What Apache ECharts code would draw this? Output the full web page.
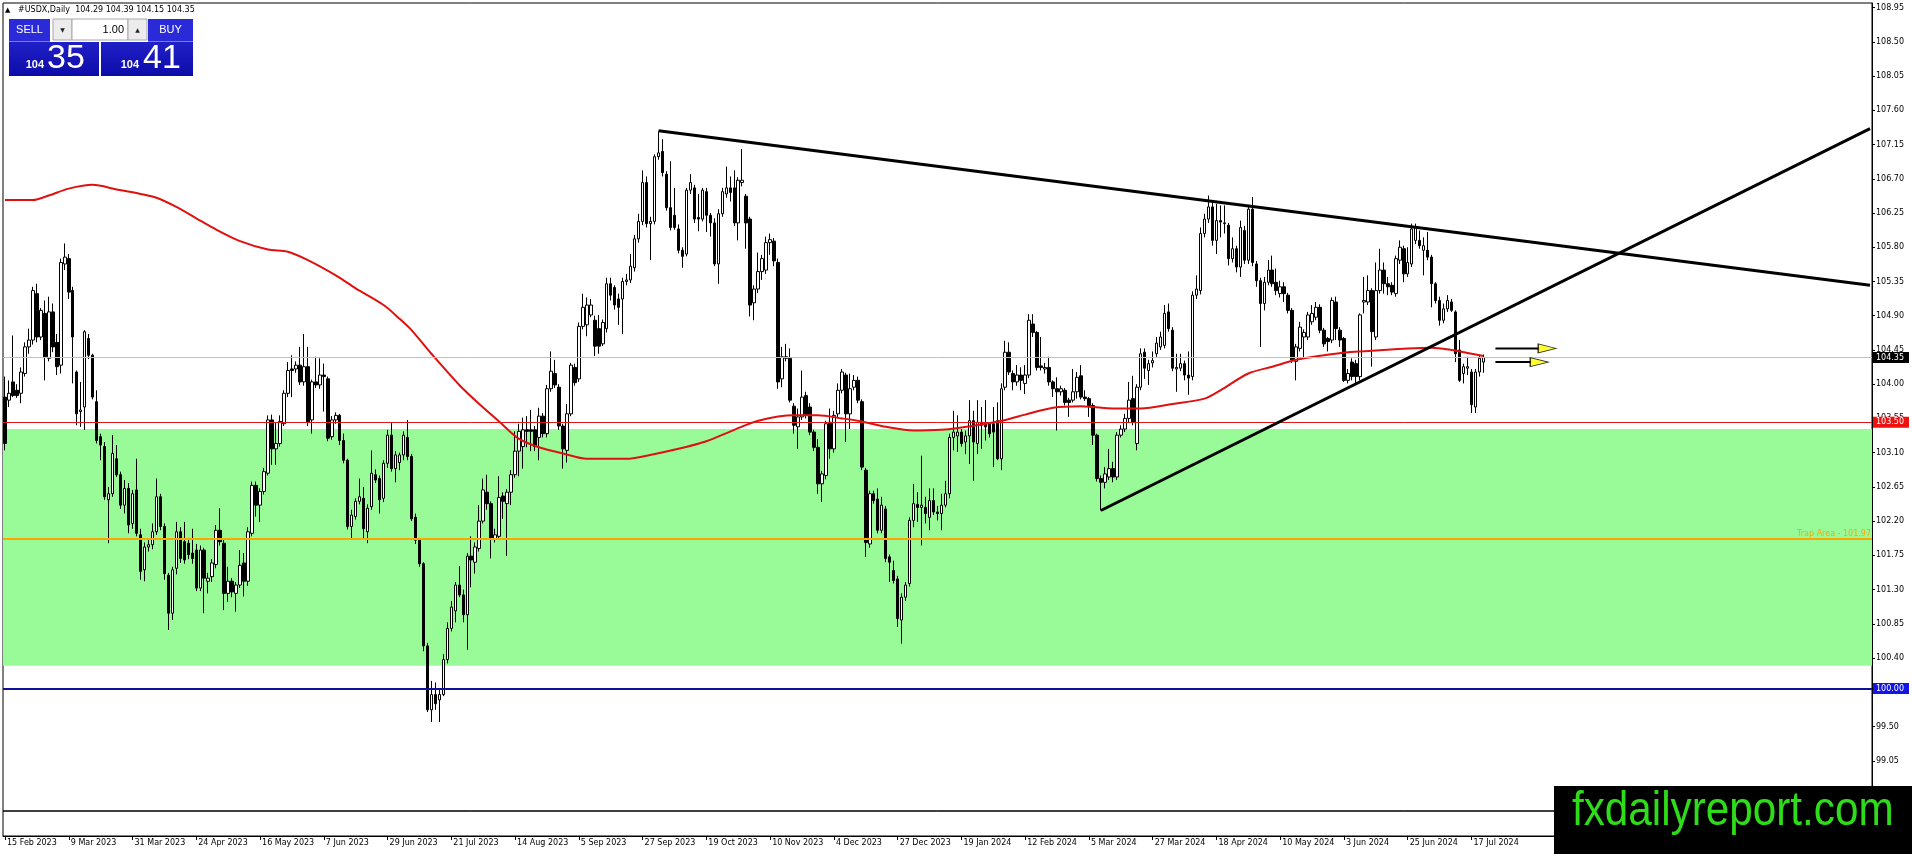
<!DOCTYPE html>
<html><head><meta charset="utf-8">
<script src="https://cdn.jsdelivr.net/npm/echarts@6/dist/echarts.min.js"></script>
<style>html,body{margin:0;padding:0;background:#fff;overflow:hidden}#c{width:1912px;height:854px}</style>
</head><body><div id="c"></div>
<script>
// ---- data ----
const O = [
103.83,103.79,104.03,103.92,103.88,104.14,104.49,104.58,105.19,104.62,
104.93,104.34,104.95,104.55,104.25,105.58,105.65,105.23,104.16,103.64,
103.70,104.60,104.38,103.77,103.31,103.18,102.48,102.56,103.02,102.81,
102.41,102.63,102.17,102.61,102.02,101.56,101.86,101.89,102.06,102.52,
102.13,101.49,100.99,101.58,102.06,101.93,101.91,101.78,101.82,101.32,
101.82,101.41,101.47,101.63,102.08,101.91,101.25,101.41,101.25,101.36,
101.65,101.41,102.04,102.67,102.41,102.59,102.83,103.53,103.15,103.22,
103.48,103.88,104.20,104.20,104.25,104.03,104.23,103.53,104.03,103.99,
104.12,104.07,103.31,103.53,103.59,103.26,103.00,102.13,102.26,102.46,
102.50,102.06,102.39,102.81,102.76,102.50,102.96,103.33,102.89,102.97,
103.07,103.30,103.05,102.25,101.95,101.64,100.56,99.72,99.92,99.85,
99.92,100.38,100.79,101.02,101.36,101.23,100.97,101.74,101.66,101.84,
102.20,102.58,102.43,101.97,102.00,102.53,102.43,102.58,102.81,103.12,
103.18,103.40,103.40,103.40,103.30,103.58,103.35,103.94,104.14,103.96,
103.45,103.13,103.61,104.22,104.07,104.76,104.78,104.91,104.84,104.73,
104.53,104.73,105.32,105.27,105.12,105.12,105.35,105.37,105.53,105.91,
106.14,106.65,106.11,106.14,106.99,107.06,106.76,106.32,106.22,106.04,
105.76,105.71,106.55,106.58,106.19,106.17,106.53,106.22,106.12,105.58,
106.24,106.50,106.58,106.58,106.12,106.65,106.47,106.17,105.07,105.25,
105.48,105.50,105.86,105.88,105.60,104.07,104.36,104.34,103.71,103.44,
103.57,103.85,103.70,103.37,103.17,102.69,102.80,103.50,103.15,103.61,
103.92,104.12,103.61,103.96,104.05,103.77,102.87,101.90,102.56,102.49,
102.08,102.36,101.73,101.55,101.44,100.90,101.20,101.38,102.21,102.42,
102.38,102.38,102.25,102.47,102.32,102.30,102.41,102.56,103.30,103.32,
103.37,103.24,103.32,103.52,103.22,103.50,103.48,103.48,103.48,103.52,
103.02,103.96,104.42,104.14,104.03,104.12,104.01,104.12,104.79,104.68,
104.24,104.20,104.22,104.03,103.94,103.90,103.92,103.79,103.79,103.90,
104.11,103.83,103.81,103.72,103.33,102.76,102.71,102.78,102.89,102.78,
103.33,103.41,103.55,103.81,103.22,103.96,104.42,104.18,104.28,104.40,
104.49,104.51,104.95,104.71,104.20,104.21,104.27,104.12,104.10,105.17,
105.23,105.98,106.17,106.33,105.89,106.15,106.11,106.09,105.65,105.78,
105.54,106.02,105.63,106.30,105.58,105.36,105.06,105.34,105.50,105.34,
105.19,105.28,105.17,104.97,104.30,104.47,104.62,104.62,104.82,104.88,
105.01,104.71,104.60,104.58,105.08,104.71,104.60,104.05,104.29,104.27,
104.10,105.08,105.08,105.23,104.62,105.23,105.50,105.32,105.30,105.19,
105.63,105.78,105.45,105.58,105.89,105.89,105.76,105.76,105.67,105.32,
105.10,104.84,104.99,105.08,104.95,104.45,104.14,104.21,104.16,103.70,
104.16,104.29];
const C = [
103.22,103.88,103.85,103.85,104.16,104.49,104.58,105.23,104.62,104.97,
104.36,104.95,104.49,104.23,105.60,105.67,105.21,104.62,103.61,103.66,
104.69,104.38,103.83,103.26,103.20,102.52,102.56,103.09,102.81,102.41,
102.63,102.15,102.56,102.04,101.54,101.86,101.89,102.06,102.52,102.13,
101.51,100.99,101.56,102.06,101.71,101.69,101.76,101.71,101.32,101.82,
101.45,101.45,101.65,102.08,101.93,101.25,101.41,101.27,101.36,101.62,
101.41,102.06,102.67,102.41,102.59,102.85,103.53,103.15,103.22,103.51,
103.88,104.18,104.18,104.25,104.03,104.23,103.50,104.03,103.99,104.12,
104.10,103.29,103.53,103.59,103.26,103.00,102.13,102.28,102.46,102.52,
102.10,102.37,102.83,102.74,102.48,102.96,103.33,102.89,103.07,103.07,
103.33,103.05,102.23,101.95,101.64,100.56,99.72,99.92,99.80,99.92,
100.38,100.79,101.07,101.36,101.23,100.97,101.74,101.69,101.86,102.20,
102.61,102.43,101.97,102.02,102.51,102.46,102.58,102.81,103.12,103.38,
103.40,103.38,103.38,103.18,103.58,103.35,103.94,104.17,103.99,103.45,
103.15,103.61,104.25,104.02,104.76,105.01,105.04,105.04,104.50,104.50,
104.81,105.32,105.17,105.04,105.01,105.35,105.37,105.55,105.91,106.14,
106.65,106.11,106.14,106.99,107.04,106.78,106.32,106.06,106.06,105.76,
105.68,106.55,106.65,106.17,106.17,106.55,106.22,106.12,105.58,106.24,
106.53,106.58,106.52,106.12,106.68,106.68,106.12,105.04,105.25,105.48,
105.65,105.86,105.90,105.62,104.03,104.36,104.34,103.79,103.46,103.57,
103.83,103.59,103.37,103.17,102.69,102.82,103.48,103.15,103.59,103.92,
104.16,103.61,103.94,104.05,103.79,102.91,101.92,102.56,102.47,102.08,
102.41,101.71,101.66,101.42,100.92,101.20,101.36,102.21,102.43,102.38,
102.41,102.30,102.47,102.32,102.30,102.41,102.56,103.30,103.37,103.37,
103.22,103.32,103.52,103.24,103.50,103.46,103.44,103.35,103.37,103.02,
103.94,104.42,104.16,104.03,104.12,104.05,104.12,104.84,104.68,104.22,
104.22,104.22,104.03,103.94,103.90,103.94,103.76,103.76,103.90,104.09,
103.83,103.81,103.72,103.33,102.76,102.71,102.82,102.89,102.78,103.33,
103.41,103.55,103.79,103.50,103.96,104.40,104.21,104.27,104.31,104.54,
104.62,104.93,104.73,104.21,104.22,104.27,104.12,104.08,105.17,105.25,
105.98,106.17,106.33,105.89,106.15,106.13,106.12,105.65,105.78,105.54,
106.06,105.63,106.30,105.60,105.36,105.06,105.34,105.50,105.32,105.23,
105.28,105.19,104.97,104.32,104.49,104.75,104.68,104.91,104.93,105.01,
104.71,104.53,104.56,105.10,104.73,104.58,104.05,104.14,104.10,104.10,
104.91,105.10,105.23,104.69,105.23,105.50,105.32,105.28,105.21,105.65,
105.80,105.45,105.60,106.04,106.06,105.82,105.82,105.67,105.32,105.10,
104.84,104.99,105.10,104.97,104.40,104.05,104.23,104.23,103.73,104.16,
104.34,104.35];
const L = [
103.13,103.70,103.83,103.82,103.75,104.10,104.40,104.52,104.55,104.58,
104.05,104.30,104.42,104.12,104.14,105.50,105.12,104.01,103.46,103.44,
103.40,104.33,103.80,103.22,103.00,102.48,101.91,102.52,102.78,102.36,
102.30,102.04,102.10,102.00,101.43,101.41,101.80,101.83,102.02,102.08,
101.43,100.77,100.90,101.50,101.65,101.64,101.70,101.64,101.28,101.28,
100.99,101.25,101.40,101.58,101.88,101.03,101.14,101.20,101.01,101.32,
101.21,101.35,102.00,102.26,102.19,102.55,102.80,102.94,102.94,103.18,
103.45,103.83,103.83,104.15,103.99,103.98,103.45,103.35,103.95,103.94,
103.64,103.25,103.27,103.48,103.20,102.96,102.09,101.97,102.22,102.42,
101.97,101.91,102.35,102.70,102.30,102.45,102.90,102.85,102.71,102.87,
103.00,103.00,102.20,101.90,101.60,100.49,99.69,99.56,99.72,99.56,
99.90,100.33,100.75,100.87,101.20,100.87,100.51,101.33,101.51,101.80,
102.17,102.35,101.71,101.92,101.96,102.23,101.74,102.41,102.77,102.79,
102.89,103.17,103.12,103.12,103.00,103.30,103.30,103.90,103.95,103.40,
102.89,102.97,103.58,103.98,104.03,104.72,104.63,104.88,104.37,104.40,
104.50,104.68,105.10,104.98,104.78,104.66,105.30,105.33,105.48,105.86,
106.09,106.06,105.63,106.10,106.95,106.73,106.28,106.02,106.03,105.72,
105.53,105.68,106.50,106.12,106.01,106.14,106.00,105.94,105.55,105.32,
106.20,106.45,106.40,106.08,105.89,106.60,105.78,104.89,104.84,105.20,
105.37,105.45,105.70,105.55,103.94,103.96,104.30,103.76,103.35,103.15,
103.53,103.55,103.33,103.12,102.56,102.45,102.75,103.02,103.10,103.57,
103.88,103.24,103.41,103.92,103.75,102.87,101.73,101.85,102.43,102.04,
102.04,101.66,101.40,101.38,100.81,100.59,101.15,101.34,102.12,102.19,
101.88,102.17,102.08,102.28,102.21,102.08,102.38,102.50,103.13,103.11,
103.18,103.08,102.95,102.73,103.08,103.15,103.26,103.30,102.91,103.00,
102.87,103.92,104.12,103.92,103.98,103.92,103.87,104.08,104.62,104.18,
104.18,104.14,103.98,103.83,103.39,103.85,103.72,103.57,103.76,103.81,
103.80,103.78,103.57,103.20,102.72,102.34,102.63,102.74,102.71,102.74,
103.30,103.37,103.50,103.46,103.13,103.92,104.07,103.99,104.22,104.36,
104.45,104.47,104.69,104.17,103.90,104.17,104.05,103.86,104.05,105.12,
105.18,105.93,106.12,105.82,105.71,105.93,105.98,105.56,105.60,105.47,
105.41,105.58,105.58,105.55,105.28,104.49,104.97,105.30,105.28,105.17,
105.14,105.08,104.93,104.28,104.05,104.43,104.34,104.58,104.78,104.84,
104.67,104.49,104.43,104.54,104.58,104.49,104.03,104.01,104.05,103.99,
104.05,104.93,105.04,104.23,104.58,105.19,105.19,105.17,105.17,105.15,
105.58,105.34,105.41,105.54,105.84,105.78,105.43,105.63,105.01,105.06,
104.77,104.80,104.95,104.95,104.29,104.03,104.01,104.12,103.62,103.62,
104.10,104.15];
const H = [
104.10,104.05,104.64,104.00,104.22,104.55,104.73,105.28,105.32,105.00,
105.10,105.15,105.06,104.66,105.65,105.85,105.71,105.28,104.18,104.03,
104.71,104.66,104.40,103.92,103.35,103.24,102.65,103.33,103.20,102.85,
102.74,102.70,102.61,103.02,102.10,101.92,101.95,102.17,102.76,102.56,
102.17,101.52,101.60,102.19,102.12,102.19,101.98,102.10,101.90,101.88,
101.85,101.52,101.70,102.15,102.37,101.95,101.60,101.45,101.40,101.82,
101.78,102.12,102.72,102.72,102.63,102.90,103.59,103.60,103.50,103.59,
103.92,104.29,104.38,104.30,104.49,104.66,104.49,104.06,104.36,104.34,
104.27,104.10,103.58,103.63,103.61,103.35,103.02,102.35,102.50,102.76,
102.65,102.42,103.13,102.88,102.80,103.00,103.40,103.50,103.12,103.10,
103.38,103.53,103.08,102.30,101.98,101.66,100.60,100.10,100.08,99.98,
100.45,100.87,101.15,101.40,101.61,101.30,101.78,102.00,101.92,102.41,
102.76,102.81,102.46,102.10,102.79,102.58,102.62,102.87,103.38,103.48,
103.56,103.58,103.66,103.45,103.69,103.62,103.99,104.43,104.32,104.00,
103.48,103.74,104.28,104.27,104.81,105.19,105.14,105.12,104.90,104.91,
104.85,105.40,105.40,105.30,105.19,105.40,105.45,105.71,105.96,106.24,
106.81,106.73,106.20,107.02,107.32,107.22,106.80,106.93,106.58,106.10,
105.80,106.58,106.76,106.62,106.50,106.58,106.58,106.25,106.18,106.30,
106.58,106.86,106.73,106.81,106.72,107.09,106.50,106.20,105.30,105.73,
105.70,105.94,105.98,105.92,105.65,104.49,104.53,104.47,103.75,103.68,
104.18,103.90,103.75,103.40,103.28,102.86,103.52,103.68,103.65,104.01,
104.20,104.15,104.14,104.12,104.10,103.80,102.90,102.60,102.60,102.63,
102.52,102.40,101.76,101.68,101.48,101.25,101.40,102.25,102.69,102.58,
103.06,102.52,102.63,102.63,102.40,102.56,102.73,103.35,103.65,103.59,
103.41,103.39,103.79,103.65,103.79,103.70,103.79,103.50,103.70,103.76,
104.01,104.57,104.55,104.18,104.25,104.22,104.25,104.92,104.92,104.70,
104.62,104.28,104.36,104.05,104.09,103.98,103.95,103.82,104.20,104.16,
104.25,103.92,103.83,103.75,103.35,102.80,102.91,103.15,102.98,103.37,
103.46,103.61,104.03,104.11,104.00,104.47,104.47,104.32,104.43,104.62,
104.69,105.04,105.06,104.75,104.40,104.40,104.31,104.43,105.22,105.43,
106.06,106.24,106.48,106.41,106.37,106.35,106.35,106.12,105.93,105.82,
106.15,106.08,106.35,106.46,105.62,105.40,105.41,105.63,105.69,105.52,
105.36,105.34,105.20,105.00,104.53,104.82,104.72,104.95,105.04,105.08,
105.05,104.74,104.62,105.14,105.15,104.75,104.62,104.20,104.34,104.32,
104.93,105.41,105.43,105.26,105.60,105.78,105.60,105.41,105.34,105.69,
105.89,105.82,105.80,106.11,106.11,106.02,105.93,106.00,105.70,105.34,
105.15,105.06,105.17,105.12,104.97,104.58,104.27,104.36,104.20,104.20,
104.38,104.39];

// date labels, one every 16 bars (bar 0 = 15 Feb 2023)
const tickLabels = ['15 Feb 2023','9 Mar 2023','31 Mar 2023','24 Apr 2023','16 May 2023','7 Jun 2023',
 '29 Jun 2023','21 Jul 2023','14 Aug 2023','5 Sep 2023','27 Sep 2023','19 Oct 2023','10 Nov 2023',
 '4 Dec 2023','27 Dec 2023','19 Jan 2024','12 Feb 2024','5 Mar 2024','27 Mar 2024','18 Apr 2024',
 '10 May 2024','3 Jun 2024','25 Jun 2024','17 Jul 2024'];
const priceTicks = [108.95,108.50,108.05,107.60,107.15,106.70,106.25,105.80,105.35,104.90,104.45,104.00,
 103.55,103.10,102.65,102.20,101.75,101.30,100.85,100.40,99.95,99.50,99.05];

// red moving average, read at sample bars
const maIdx = [0,7,11,16,22,28,34,38,43,48,52,59,66,71,76,83,88,95,99,102,107,114,119,124,129,134,140,146,156,161,169,176,183,189,
 198,204,210,215,221,228,235,240,245,251,256,263,270,273,278,285,293,301,305,312,318,324,331,337,343,352,358,363,367,371];
const maVal = [106.42,106.42,106.48,106.57,106.62,106.56,106.50,106.45,106.33,106.18,106.06,105.88,105.77,105.74,105.63,
 105.43,105.26,105.04,104.86,104.71,104.40,103.99,103.74,103.51,103.28,103.17,103.09,103.02,103.02,103.06,103.15,103.25,103.40,103.52,
 103.59,103.59,103.55,103.51,103.44,103.39,103.40,103.43,103.47,103.53,103.60,103.69,103.71,103.70,103.68,
 103.68,103.74,103.81,103.92,104.14,104.23,104.32,104.38,104.42,104.44,104.47,104.48,104.45,104.41,104.37];

const bidLevel = 104.35, redLevel = 103.50, trapLevel = 101.97, roundLevel = 100.00;
const zoneTop = 103.41, zoneBottom = 100.30;
const upperTrend = [[164,107.33],[468,105.30]];
const lowerTrend = [[275,102.34],[468,107.36]];
const arrowA = {from:374, to:385, head:387, price:104.47};
const arrowB = {from:374, to:383, head:385, price:104.29};
const headerText = '#USDX,Daily  104.29 104.39 104.15 104.35';
const NCAT = 469;

// ---- build ----
const cats = Array.from({length: NCAT}, (_, i) => String(i));
const candles = O.map((o, i) => [o, C[i], L[i], H[i]]);
const ma = new Array(NCAT).fill(null);
maIdx.forEach((ix, k) => { ma[ix] = maVal[k]; });
const FF = '"DejaVu Sans", Verdana, sans-serif';
const FA = '"Liberation Sans", Arial, sans-serif';

function tag(v, bg) {
  return {show: true, position: 'end', distance: 1, formatter: v.toFixed(2), color: '#fff',
    backgroundColor: bg, padding: [2, 5, 1, 3], fontSize: 8, fontFamily: FF};
}
const isLabelIdx = (i) => i % 16 === 0 && i / 16 < tickLabels.length;

const chart = echarts.init(document.getElementById('c'), null, {renderer: 'canvas'});
const option = {
  animation: false,
  backgroundColor: '#fff',
  textStyle: {fontFamily: FF},
  grid: [
    {left: 3, right: 40, top: 3, height: 808, show: true, borderColor: '#000', borderWidth: 1, backgroundColor: 'transparent'},
    {left: 3, right: 40, top: 811, height: 25, show: true, borderColor: '#000', borderWidth: 1, backgroundColor: 'transparent'}
  ],
  xAxis: [
    {type: 'category', gridIndex: 0, data: cats, boundaryGap: true,
     axisLine: {show: false}, axisTick: {show: false}, axisLabel: {show: false}, splitLine: {show: false}},
    {type: 'category', gridIndex: 1, data: cats, boundaryGap: true,
     axisLine: {show: true, lineStyle: {color: '#000', width: 1}},
     axisTick: {show: true, alignWithLabel: true, length: 4, lineStyle: {color: '#000'},
       interval: (i) => isLabelIdx(i)},
     axisLabel: {show: true, interval: (i) => isLabelIdx(i), align: 'left', margin: 3, padding: [0, 0, 0, 2],
       fontSize: 8, color: '#000', fontFamily: FF,
       formatter: (v, i) => isLabelIdx(i) ? tickLabels[i / 16] : ''},
     splitLine: {show: false}}
  ],
  yAxis: [
    {type: 'value', gridIndex: 0, position: 'right', min: 98.39, max: 109.01, scale: true,
     axisLine: {show: true, lineStyle: {color: '#000'}},
     axisTick: {show: true, length: 3, inside: false, lineStyle: {color: '#000'}, customValues: priceTicks},
     axisLabel: {show: true, margin: 4, fontSize: 8, color: '#000', fontFamily: FF, customValues: priceTicks,
       formatter: (v) => Number(v).toFixed(2)},
     splitLine: {show: false}},
    {type: 'value', gridIndex: 1, show: false, min: 0, max: 1}
  ],
  series: [
    {type: 'candlestick', name: 'USDX', xAxisIndex: 0, yAxisIndex: 0, data: candles, barWidth: 3, z: 3,
     itemStyle: {color: '#ffffff', color0: '#000000', borderColor: '#000000', borderColor0: '#000000', borderWidth: 1},
     markArea: {silent: true, label: {show: false},
       data: [[{yAxis: zoneTop, itemStyle: {color: '#98FB98', opacity: 1, borderWidth: 0}}, {yAxis: zoneBottom}]]}},
    {type: 'line', name: 'MA', xAxisIndex: 0, yAxisIndex: 0, data: ma, connectNulls: true, smooth: 0.3,
     showSymbol: false, symbol: 'none', clip: false, z: 4,
     lineStyle: {color: '#e01010', width: 2},
     markLine: {silent: true, symbol: ['none', 'none'], precision: 2,
       data: [
         {yAxis: bidLevel, lineStyle: {color: '#c0c0c0', width: 1, type: 'solid'}, label: tag(bidLevel, '#000000')},
         {yAxis: redLevel, lineStyle: {color: '#e01818', width: 1, type: 'solid'}, label: tag(redLevel, '#ee1111')},
         {yAxis: trapLevel, lineStyle: {color: '#ffa500', width: 2, type: 'solid'},
           label: {show: true, position: 'insideEndTop', distance: 1, formatter: 'Trap Area - ' + trapLevel.toFixed(2),
             color: '#ffa500', fontSize: 8, fontFamily: FF}},
         {yAxis: roundLevel, lineStyle: {color: '#10109a', width: 2, type: 'solid'}, label: tag(roundLevel, '#1414e6')}
       ]}},
    {type: 'line', name: 'upper', data: upperTrend, symbol: 'none', z: 6, lineStyle: {color: '#000', width: 3}},
    {type: 'line', name: 'lower', data: lowerTrend, symbol: 'none', z: 6, lineStyle: {color: '#000', width: 3}},
    {type: 'line', name: 'arrowA', data: [[arrowA.from, arrowA.price], [arrowA.to, arrowA.price]], symbol: 'none', z: 6,
     lineStyle: {color: '#000', width: 2}},
    {type: 'line', name: 'arrowB', data: [[arrowB.from, arrowB.price], [arrowB.to, arrowB.price]], symbol: 'none', z: 6,
     lineStyle: {color: '#000', width: 2}},
    {type: 'scatter', name: 'heads', data: [[arrowA.head, arrowA.price], [arrowB.head, arrowB.price]], z: 7,
     symbol: 'triangle', symbolSize: [9, 18], symbolRotate: -90,
     itemStyle: {color: '#ffff00', borderColor: '#000', borderWidth: 1}}
  ],
  graphic: [
    // header
    {type: 'text', x: 5, y: 10, style: {text: '\u25B2', fill: '#000', font: '7px ' + FF, verticalAlign: 'middle'}},
    {type: 'text', x: 18, y: 10, style: {text: headerText, fill: '#000', font: '8px ' + FF, verticalAlign: 'middle'}},
    // one-click trading panel
    {type: 'rect', shape: {x: 9, y: 19, width: 41, height: 22}, style: {fill: '#2a2ad8'}},
    {type: 'text', x: 29.5, y: 30, style: {text: 'SELL', fill: '#fff', font: '11px ' + FA, align: 'center', verticalAlign: 'middle'}},
    {type: 'rect', shape: {x: 53, y: 19, width: 19, height: 21}, style: {fill: '#ececec', stroke: '#a8a8a8', lineWidth: 1}},
    {type: 'text', x: 62.5, y: 30, style: {text: '\u25BC', fill: '#222', font: '6px ' + FF, align: 'center', verticalAlign: 'middle'}},
    {type: 'rect', shape: {x: 72, y: 19, width: 56, height: 21}, style: {fill: '#fff', stroke: '#a8a8a8', lineWidth: 1}},
    {type: 'text', x: 124, y: 30, style: {text: '1.00', fill: '#000', font: '11px ' + FA, align: 'right', verticalAlign: 'middle'}},
    {type: 'rect', shape: {x: 128, y: 19, width: 19, height: 21}, style: {fill: '#ececec', stroke: '#a8a8a8', lineWidth: 1}},
    {type: 'text', x: 137.5, y: 30, style: {text: '\u25B2', fill: '#222', font: '6px ' + FF, align: 'center', verticalAlign: 'middle'}},
    {type: 'rect', shape: {x: 148, y: 19, width: 45, height: 22}, style: {fill: '#2a2ad8'}},
    {type: 'text', x: 170.5, y: 30, style: {text: 'BUY', fill: '#fff', font: '11px ' + FA, align: 'center', verticalAlign: 'middle'}},
    {type: 'rect', shape: {x: 9, y: 41, width: 41, height: 1}, style: {fill: '#7a7af0'}},
    {type: 'rect', shape: {x: 148, y: 41, width: 45, height: 1}, style: {fill: '#7a7af0'}},
    {type: 'rect', shape: {x: 9, y: 42, width: 90, height: 34},
     style: {fill: new echarts.graphic.LinearGradient(0, 0, 0, 1, [{offset: 0, color: '#2020c8'}, {offset: 1, color: '#0c0ca8'}])}},
    {type: 'rect', shape: {x: 101, y: 42, width: 92, height: 34},
     style: {fill: new echarts.graphic.LinearGradient(0, 0, 0, 1, [{offset: 0, color: '#2020c8'}, {offset: 1, color: '#0c0ca8'}])}},
    {type: 'text', x: 44, y: 65, style: {text: '104', fill: '#fff', font: 'bold 11px ' + FA, align: 'right', verticalAlign: 'middle'}},
    {type: 'text', x: 47, y: 59, style: {text: '35', fill: '#fff', font: '34px ' + FA, align: 'left', verticalAlign: 'middle'}},
    {type: 'text', x: 139, y: 65, style: {text: '104', fill: '#fff', font: 'bold 11px ' + FA, align: 'right', verticalAlign: 'middle'}},
    {type: 'text', x: 143, y: 59, style: {text: '41', fill: '#fff', font: '34px ' + FA, align: 'left', verticalAlign: 'middle'}},
    // watermark
    {type: 'rect', z: 100, shape: {x: 1554, y: 786, width: 358, height: 68}, style: {fill: '#000'}},
    {type: 'text', z: 101, x: 1572, y: 812, scaleX: 0.88, originX: 0, originY: 0,
     style: {text: 'fxdailyreport.com', fill: '#2fdc1a', font: '48px ' + FA, align: 'left', verticalAlign: 'middle'}}
  ]
};
chart.setOption(option);
</script>
</body></html>
